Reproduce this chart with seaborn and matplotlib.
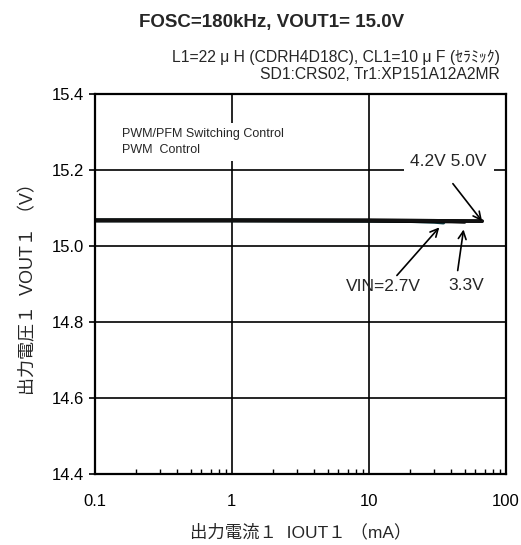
import numpy as np
import pandas as pd
import matplotlib
matplotlib.use("Agg")
import matplotlib.pyplot as plt
import seaborn as sns
from matplotlib.ticker import FixedLocator, LogLocator, NullFormatter

# ---- data ----
iout_27 = [0.1, 1, 10, 20, 30, 35]
vout_27 = [15.068, 15.068, 15.067, 15.066, 15.064, 15.062]
iout_33 = [0.1, 1, 10, 20, 40, 50]
vout_33 = [15.068, 15.068, 15.067, 15.066, 15.065, 15.064]
iout_42 = [0.1, 1, 10, 30, 67]
vout_42 = [15.068, 15.068, 15.068, 15.067, 15.066]
iout_50 = [0.1, 1, 10, 30, 67]
vout_50 = [15.068, 15.068, 15.068, 15.067, 15.066]
series_labels = ["VIN=2.7V", "3.3V", "4.2V", "5.0V"]
x_ticks = [0.1, 1, 10, 100]
x_ticklabels = ["0.1", "1", "10", "100"]
y_ticks = [14.4, 14.6, 14.8, 15.0, 15.2, 15.4]
y_ticklabels = ["14.4", "14.6", "14.8", "15.0", "15.2", "15.4"]

frames = []
for lab, xs, ys in zip(series_labels, [iout_27, iout_33, iout_42, iout_50],
                       [vout_27, vout_33, vout_42, vout_50]):
    frames.append(pd.DataFrame({"iout": xs, "vout": ys, "vin": lab}))
df = pd.concat(frames, ignore_index=True)

sns.set_style("white")
plt.rcParams["font.family"] = ["Liberation Sans", "Noto Sans CJK JP", "DejaVu Sans"]

fig = plt.figure(figsize=(5.21, 5.45), dpi=100)
ax = fig.add_axes([0.182, 0.130, 0.789, 0.697])

palette = {"VIN=2.7V": "#0d3f45", "3.3V": "#000000", "4.2V": "#000000", "5.0V": "#111111"}
sns.lineplot(data=df, x="iout", y="vout", hue="vin", palette=palette,
             linewidth=2.6, legend=False, ax=ax, estimator=None, sort=False)

ax.set_xscale("log")
ax.set_xlim(0.1, 100)
ax.set_ylim(14.4, 15.4)
ax.xaxis.set_major_locator(FixedLocator(x_ticks))
ax.set_xticklabels(x_ticklabels)
ax.xaxis.set_minor_locator(LogLocator(base=10, subs=np.arange(2, 10)))
ax.xaxis.set_minor_formatter(NullFormatter())
ax.set_yticks(y_ticks)
ax.set_yticklabels(y_ticklabels)

ax.grid(True, which="major", color="black", linewidth=1.2)
for s in ax.spines.values():
    s.set_color("black")
    s.set_linewidth(1.6)

ax.tick_params(axis="x", which="major", length=0, pad=14, labelsize=12, colors="black")
ax.tick_params(axis="x", which="minor", direction="in", length=3.5, width=1, bottom=True, top=False, colors="black")
ax.tick_params(axis="y", which="major", direction="out", length=4, width=1.2, left=True, pad=4, labelsize=12, colors="black")

ax.set_xlabel("出力電流１  IOUT１ （mA）", fontsize=12.5, labelpad=11)
ax.set_ylabel("出力電圧１  VOUT１ （V）", fontsize=13, labelpad=10)

fig.text(0.522, 0.958, "FOSC=180kHz, VOUT1= 15.0V", ha="center", va="center",
         fontsize=13.5, fontweight="bold")
fig.text(0.96, 0.894, "L1=22 μ H (CDRH4D18C), CL1=10 μ F (ｾﾗﾐｯｸ)", ha="right", va="center",
         fontsize=11.3)
fig.text(0.96, 0.864, "SD1:CRS02, Tr1:XP151A12A2MR", ha="right", va="center", fontsize=11.3)

ax.text(0.066, 0.874, "PWM/PFM Switching Control\nPWM  Control", transform=ax.transAxes,
        ha="left", va="center", fontsize=9, linespacing=1.45,
        bbox=dict(facecolor="white", edgecolor="none", pad=3.5))

# annotations
arrow = dict(arrowstyle="->", color="black", lw=1.2, mutation_scale=14)
end42 = (iout_42[-1], vout_42[-1])
ax.annotate("", xy=end42, xytext=(-21, 27), textcoords="offset points",
            arrowprops=dict(shrinkA=0, shrinkB=0, **arrow))
ax.annotate("4.2V 5.0V", xy=end42, xytext=(-24, 43), textcoords="offset points",
            ha="center", va="center", fontsize=12.5,
            bbox=dict(facecolor="white", edgecolor="none", pad=5))
end33 = (iout_33[-1], vout_33[-1])
ax.annotate("", xy=end33, xytext=(-5, -35), textcoords="offset points",
            arrowprops=dict(shrinkA=0, shrinkB=5.5, **arrow))
ax.annotate("3.3V", xy=end33, xytext=(1, -46), textcoords="offset points",
            ha="center", va="center", fontsize=12.5)
end27 = (iout_27[-1], vout_27[-1])
ax.annotate("", xy=end27, xytext=(-33.5, -38), textcoords="offset points",
            arrowprops=dict(shrinkA=0, shrinkB=4.5, **arrow))
ax.annotate("VIN=2.7V", xy=end27, xytext=(-43.5, -46), textcoords="offset points",
            ha="center", va="center", fontsize=12.5)

fig.savefig("out.png", dpi=100, facecolor="white")
